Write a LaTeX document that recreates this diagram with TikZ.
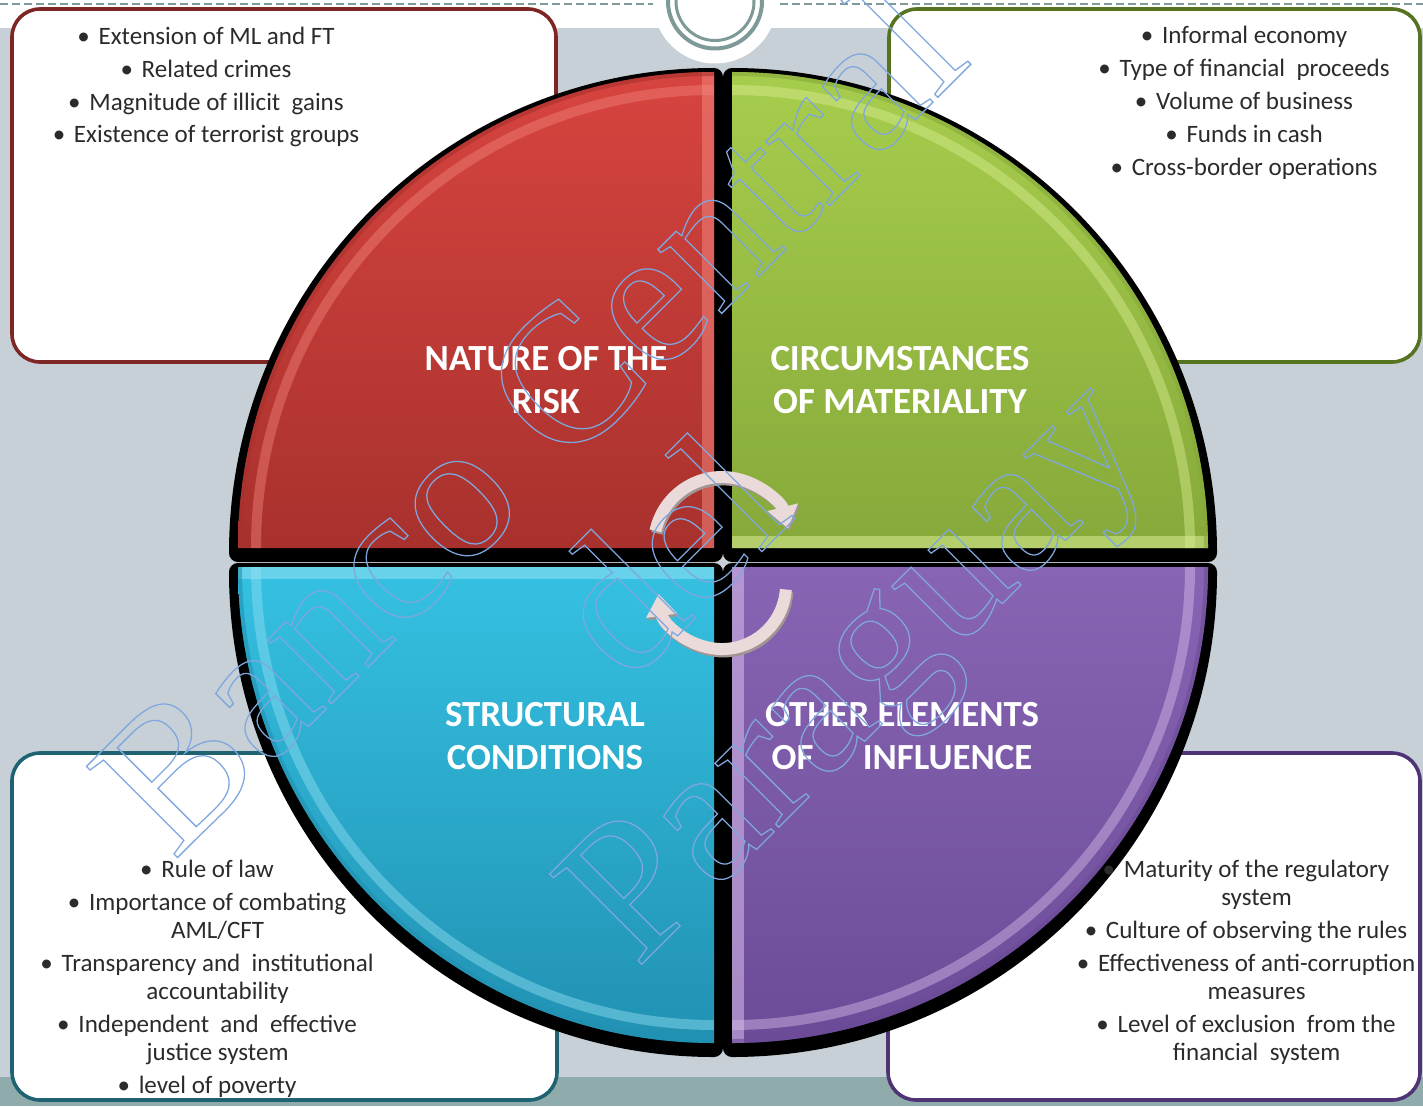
\documentclass[tikz,border=0pt]{standalone}
\usepackage{fontspec}
\setmainfont{Carlito}
\newfontfamily\markfont{Liberation Serif}
\usetikzlibrary{arrows.meta, positioning}

\definecolor{pagegray}{HTML}{C6D0D6}
\definecolor{footteal}{HTML}{8FABAB}
\definecolor{ruleteal}{HTML}{7D9A99}
\definecolor{itemgray}{HTML}{2B2B2B}
\definecolor{markblue}{HTML}{7FA7DE}
\definecolor{arrowpink}{HTML}{EBDADA}
\definecolor{arrowedge}{HTML}{A39494}
\definecolor{boxred}{HTML}{7E2624}
\definecolor{boxgreen}{HTML}{56731F}
\definecolor{boxblue}{HTML}{1F6373}
\definecolor{boxpurple}{HTML}{4E3474}
\definecolor{quadredtop}{HTML}{D7443F}
\definecolor{quadredbot}{HTML}{A8312D}
\definecolor{quadredhl}{HTML}{F2837B}
\definecolor{quadgreentop}{HTML}{A7CD4D}
\definecolor{quadgreenbot}{HTML}{86A93A}
\definecolor{quadgreenhl}{HTML}{D9EE92}
\definecolor{quadbluetop}{HTML}{35C1E2}
\definecolor{quadbluebot}{HTML}{2191B2}
\definecolor{quadbluehl}{HTML}{93E0F4}
\definecolor{quadpurpletop}{HTML}{8865B4}
\definecolor{quadpurplebot}{HTML}{6B4B97}
\definecolor{quadpurplehl}{HTML}{D9BDEB}

\newcommand{\listdot}{\textbullet\hspace{0.35em}}
\newcommand{\wrapindent}{\phantom{\listdot}}
% hollow letters for the bank name
\newcommand{\outlined}[1]{\special{pdf:literal direct 1 Tr 0.9 w}#1\special{pdf:literal direct 0 Tr}}

\tikzset{
  infobox/.style={fill=white, line width=0.9mm, rounded corners=7mm},
  itemlist/.style={font=\fontsize{17.8}{19.9}\selectfont, text=itemgray, align=center, inner sep=0pt},
  quadlabel/.style={font=\fontsize{26.2}{30.6}\selectfont\bfseries, text=white, align=center, inner sep=0pt},
  quadback/.style={fill=black, draw=black, line width=4.5mm, line join=round},
  cyclearrow/.style={line width=3mm, color=arrowpink, -{Triangle[length=5.5mm, width=7.5mm]}},
  watermark/.style={font=\markfont\fontsize{140}{140}\selectfont, text=markblue, align=center, rotate=45},
}

\begin{document}
\begin{tikzpicture}[x=0.25mm, y=0.25mm]
  \useasboundingbox (0,0) rectangle (1423,-1106);

  % slide background
  \fill[white] (0,0) rectangle (1423,-28);
  \fill[pagegray] (0,-28) rectangle (1423,-1077);
  \fill[footteal] (0,-1077) rectangle (1423,-1106);
  \draw[ruleteal, line width=0.5mm, dash pattern=on 2mm off 1mm] (0,-4.5) -- (1423,-4.5);
  \fill[white] (715,-1.5) circle[radius=62];
  \draw[ruleteal, line width=1mm] (715,-1.5) circle[radius=47];
  \draw[ruleteal, line width=0.75mm] (715,-1.5) circle[radius=39];

  % corner boxes
  \draw[infobox, draw=boxred] (12,-9) rectangle (556,-362);
  \draw[infobox, draw=boxgreen] (889,-9) rectangle (1420,-362);
  \draw[infobox, draw=boxblue] (12,-753) rectangle (557,-1100);
  \draw[infobox, draw=boxpurple] (888,-753) rectangle (1420,-1100);

  % quarter discs: black backing first, then the coloured faces
  \foreach \cx/\cy/\ang in {714/-548/90, 732/-548/0, 714/-567/180, 732/-567/270}{
    \draw[quadback, yshift=-1.25mm] (\cx,\cy) -- ++(\ang:476) arc[start angle=\ang, delta angle=90, radius=476] -- cycle;
  }
  \foreach \cx/\cy/\ang/\tone in {714/-548/90/red, 732/-548/0/green, 714/-567/180/blue, 732/-567/270/purple}{
    \shade[top color=quad\tone top, bottom color=quad\tone bot] (\cx,\cy) -- ++(\ang:476) arc[start angle=\ang, delta angle=90, radius=476] -- cycle;
    \begin{scope}
      \clip (\cx,\cy) -- ++(\ang:476) arc[start angle=\ang, delta angle=90, radius=476] -- cycle;
      \draw[color=quad\tone hl, line width=6mm, opacity=.55] (\cx,\cy) -- ++(\ang:476);
      \draw[color=quad\tone hl, line width=2.5mm, opacity=.45] (\cx,\cy) ++(\ang:458) arc[start angle=\ang, delta angle=90, radius=458];
      \draw[color=quad\tone bot, line width=2mm, opacity=.6] (\cx,\cy) ++(\ang:476) arc[start angle=\ang, delta angle=90, radius=476];
    \end{scope}
  }

  % quadrant titles
  \node[quadlabel] (risklabel) at (546,-380) {NATURE OF THE\\RISK};
  \node[quadlabel] (materialitylabel) at (900,-380) {CIRCUMSTANCES\\OF MATERIALITY};
  \node[quadlabel] (structurallabel) at (545,-736) {STRUCTURAL\\CONDITIONS};
  \node[quadlabel] (influencelabel) at (902,-736) {OTHER ELEMENTS\\OF\hspace{1.34em}INFLUENCE};

  % turning arrows in the middle
  \draw[cyclearrow, color=arrowedge, xshift=0.4mm, yshift=-0.6mm] (655.5,-530.9) arc[start angle=168, end angle=14, radius=68];
  \draw[cyclearrow] (655.5,-530.9) arc[start angle=168, end angle=14, radius=68];
  \draw[cyclearrow, color=arrowedge, xshift=0.4mm, yshift=-0.6mm] (785.8,-589.5) arc[start angle=-4, end angle=-172, radius=64];
  \draw[cyclearrow] (785.8,-589.5) arc[start angle=-4, end angle=-172, radius=64];

  % factor lists
  \node[itemlist] (riskitems) at (206,-87) {%
    \listdot Extension of ML and FT\\[1.25mm]
    \listdot Related crimes\\[1.25mm]
    \listdot Magnitude of illicit\ \ gains\\[1.25mm]
    \listdot Existence of terrorist groups};
  \node[itemlist] (materialityitems) at (1244,-103) {%
    \listdot Informal economy\\[1.25mm]
    \listdot Type of financial\ \ proceeds\\[1.25mm]
    \listdot Volume of business\\[1.25mm]
    \listdot Funds in cash\\[1.25mm]
    \listdot Cross-border operations};
  \node[itemlist] (structuralitems) at (207,-979) {%
    \listdot Rule of law\\[1.25mm]
    \listdot Importance of combating\\
    \wrapindent AML/CFT\\[1.25mm]
    \listdot Transparency and\ \ institutional\\
    \wrapindent accountability\\[1.25mm]
    \listdot Independent\ \ and\ \ effective\\
    \wrapindent justice system\\[1.25mm]
    \listdot level of poverty};
  \node[itemlist] (influenceitems) at (1246,-962) {%
    \listdot Maturity of the regulatory\\
    \wrapindent system\\[1.25mm]
    \listdot Culture of observing the rules\\[1.25mm]
    \listdot Effectiveness of anti-corruption\\
    \wrapindent measures\\[1.25mm]
    \listdot Level of exclusion\ \ from the\\
    \wrapindent financial\ \ system};

  % bank name across the chart
  \node[watermark] (bankmark) at (683,-571) {\outlined{Banco Central\\del\\[2.5mm]\hspace*{26mm}Paraguay}};
\end{tikzpicture}
\end{document}
